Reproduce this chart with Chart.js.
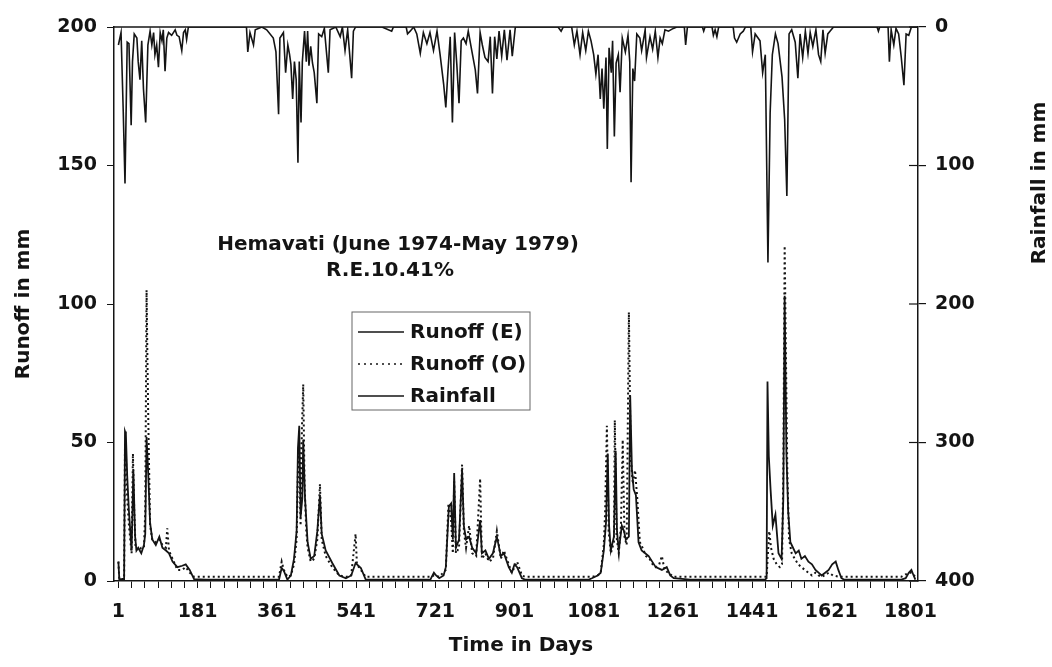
<!DOCTYPE html>
<html>
<head>
<meta charset="utf-8">
<title>Hemavati runoff</title>
<script src="https://cdn.jsdelivr.net/npm/chart.js@4.4.1/dist/chart.umd.min.js"></script>
<style>
  html, body { margin: 0; padding: 0; background: #fff; }
  #wrap { position: relative; width: 1052px; height: 667px; }
</style>
</head>
<body>
<div id="wrap"><canvas id="chart"></canvas></div>
<script>
// ---- data (days since 1 June 1974) ----
const dayTicks   = [1,31,61,91,121,151,181,211,241,271,301,331,361,391,421,451,481,511,541,571,601,631,661,691,721,751,781,811,841,871,901,931,961,991,1021,1051,1081,1111,1141,1171,1201,1231,1261,1291,1321,1351,1381,1411,1441,1471,1501,1531,1561,1591,1621,1651,1681,1711,1741,1771,1801];
const dayLabels  = [1,181,361,541,721,901,1081,1261,1441,1621,1801];
const runoffTicks = [0,50,100,150,200];
const rainTicks   = [0,100,200,300,400];

// Runoff (E) - estimated
const eDays = [1,3,14,16,18,21,25,31,35,39,42,46,53,59,62,65,69,73,78,86,94,101,109,116,124,135,146,154,163,173,200,300,360,
  366,372,377,385,393,400,406,409,412,415,419,421,425,431,438,446,453,459,463,472,487,503,518,530,540,552,563,600,700,
  710,713,718,723,730,740,745,752,757,761,764,768,775,782,786,791,798,805,814,823,827,835,843,852,861,870,877,888,895,901,907,918,925,1000,1070,
  1077,1090,1097,1104,1109,1113,1116,1120,1127,1131,1134,1138,1145,1150,1154,1161,1164,1168,1172,1177,1183,1190,1198,1206,1214,1222,1236,1247,1255,1263,1300,1400,1470,
  1474,1476,1479,1483,1488,1494,1501,1508,1512,1515,1519,1523,1528,1534,1540,1547,1553,1561,1569,1577,1585,1592,1599,1607,1615,1623,1631,1637,1644,1650,1700,1780,
  1790,1797,1803,1808,1812];
const eRunoff = [7,0.7,0.7,54,53,38,25,11,40,16,11,12,10,13,17,52,38,21,15,13,16,12,11,10,7,5,5.5,6,4,0.7,0.5,0.5,0.5,
  0.5,4.7,3.6,0.5,2,8,18,48,56,23,30,51,30,14,8,9,18,31,17,11,6.5,2,1,2,6.5,4.7,0.5,0.5,0.5,
  0.5,1.5,3,2,1,2,5,27,28,15,39,12,15,40,20,15,16,12,10,22,10,11,8,10,16,9,10,5,3,6,5,1,0.5,0.5,0.5,
  1,2,3,11,21,46,20,11,16,47,18,11,20,18,15,16,67,40,33,31,14,11,10,9,7,5,4,5,2,1,0.5,0.5,0.5,
  1,72,45,33,20,24,10,8,30,103,46,25,14,12,10,11,8,9,7,6,4,3,2,3,4,6,7,4,1,0.5,0.5,0.5,
  1,3,4,2,0.5];

// Runoff (O) - observed
const oDays = [1,3,14,16,18,21,25,31,34,37,40,46,53,59,62,65,67,69,73,78,86,94,101,109,112,116,124,135,146,154,163,173,200,300,360,
  366,372,377,385,393,400,406,409,412,415,418,421,424,428,431,438,446,453,459,463,472,487,503,518,530,540,543,552,563,600,700,
  710,718,730,745,751,757,761,764,768,775,782,786,791,798,805,814,823,827,835,843,852,861,870,877,888,895,907,918,925,1000,1070,
  1077,1090,1097,1104,1107,1111,1115,1120,1127,1129,1133,1138,1143,1147,1151,1156,1161,1165,1170,1175,1180,1186,1192,1200,1208,1215,1222,1230,1236,1242,1250,1263,1300,1400,1470,
  1474,1477,1480,1484,1490,1497,1504,1509,1512,1515,1518,1521,1525,1531,1538,1546,1553,1561,1569,1577,1585,1592,1600,1615,1625,1640,1700,1780,
  1797,1803,1812];
const oRunoff = [7,0.7,0.7,50,46,30,20,10,46,25,12,11,12,12,25,105,80,57,20,15,14,15,13,12,19,11,8,4,4,5,3,1.5,1.5,1.5,1.5,
  1.5,7,4,1.5,2,6,15,40,50,20,55,71,35,18,12,7,8,15,35,15,9,5,2,1.5,2,17,6,4,1.5,1.5,1.5,
  1.5,2,1.5,4,28,22,10,36,10,12,42,18,12,20,10,9,37,8,10,7,8,18,8,11,6,3,7,2,1.5,1.5,1.5,
  1.5,2,3,13,25,56,18,10,14,58,16,10,20,51,16,13,97,45,35,40,30,14,12,9,8,6,5,6,9,4,3,1.5,1.5,1.5,1.5,
  1.5,10,18,12,8,6,5,6,40,121,80,40,15,10,8,6,5,4,3,2,3,2,1.5,3,2,1.5,1.5,1.5,
  3,3,1.5];

// Rainfall (hangs from the top, right axis reversed)
const rainDays = [1,7,12,16,21,25,30,33,37,43,46,50,54,58,63,68,73,77,81,84,88,92,96,100,103,107,111,115,122,130,134,139,145,149,153,156,160,250,
  292,295,300,308,312,327,338,353,359,365,368,376,381,386,390,393,397,401,405,409,412,416,419,424,428,431,434,438,442,446,452,456,463,469,478,482,495,505,510,516,522,531,535,540,
  600,622,626,655,658,664,672,679,687,694,702,709,717,725,732,740,745,750,755,760,765,770,775,780,785,791,796,804,812,817,823,828,834,841,846,851,856,861,866,872,878,884,891,896,903,
  1000,1007,1012,1028,1031,1037,1043,1050,1056,1063,1069,1075,1081,1086,1091,1096,1100,1104,1109,1112,1116,1121,1124,1128,1132,1137,1141,1146,1153,1159,1163,1166,1170,1174,1179,1186,1190,1198,1201,1209,1215,1221,1227,1232,1237,1243,1251,1262,1270,
  1287,1290,1294,1328,1331,1334,1350,1353,1357,1361,1365,1398,1401,1406,1414,1421,1426,
  1438,1442,1448,1459,1465,1471,1477,1482,1487,1494,1500,1509,1515,1520,1525,1531,1539,1545,1550,1556,1562,1568,1573,1579,1586,1592,1597,1602,1607,1613,1618,1626,
  1700,1725,1728,1731,1750,1753,1757,1763,1768,1774,1780,1786,1791,1797,1803,1818];
const rainfall = [13,4,61,113,11,12,71,25,5,8,25,38,10,45,69,13,3,13,4,20,13,29,4,10,2,32,8,4,6,2,6,7,17,4,2,9,0,0,
  0,18,4,13,2,0,2,8,18,63,8,4,33,13,20,27,52,25,38,98,25,69,25,3,25,3,28,14,26,33,55,5,7,1,33,2,0,7,0,17,2,37,3,0,
  0,3,0,0,5,3,0,5,19,4,12,4,17,3,20,41,58,31,7,69,4,27,55,10,8,12,3,17,31,48,4,13,22,25,7,48,7,23,3,21,2,24,2,21,0,
  0,3,0,0,0,13,3,20,4,17,3,10,20,34,20,52,30,59,22,88,15,33,10,79,26,20,47,8,18,6,25,112,30,39,5,8,17,2,22,7,16,3,22,8,12,2,3,1,0,
  0,13,0,0,3,0,0,6,2,7,0,0,8,11,5,3,0,
  0,18,5,10,33,20,170,62,20,5,12,36,67,122,5,2,11,37,5,22,3,19,4,14,2,20,25,2,19,5,3,0,
  0,0,3,0,0,25,2,13,1,5,22,42,5,6,0,0];

const INK  = '#141414';
const FONT = 'DejaVu Sans';

function pts(xs, ys) {
  return xs.map((d, i) => ({ x: d, y: ys[i] }));
}

// titles, legend box, frame top and inner ticks of the rainfall axis
const decor = {
  id: 'decor',
  afterDraw(chart) {
    const ctx = chart.ctx;
    const a = chart.chartArea;
    ctx.save();
    ctx.strokeStyle = INK;
    ctx.lineWidth = 1.5;
    ctx.beginPath();
    ctx.moveTo(a.left, a.top);
    ctx.lineTo(a.right, a.top);
    ctx.stroke();

    // rainfall axis ticks cross the axis
    const y2 = chart.scales.y2;
    ctx.lineWidth = 1.2;
    rainTicks.forEach(v => {
      const py = y2.getPixelForValue(v);
      ctx.beginPath();
      ctx.moveTo(a.right - 9, py);
      ctx.lineTo(a.right, py);
      ctx.stroke();
    });

    ctx.fillStyle = INK;
    ctx.font = `bold 20px "${FONT}"`;
    ctx.textAlign = 'center';
    ctx.textBaseline = 'middle';
    ctx.fillText('Hemavati (June 1974-May 1979)', 398, 245);
    ctx.fillText('R.E.10.41%', 390, 271);
    ctx.fillText('Time in Days', 521, 646);

    ctx.save();
    ctx.translate(24, 304);
    ctx.rotate(-Math.PI / 2);
    ctx.fillText('Runoff in mm', 0, 0);
    ctx.restore();

    ctx.save();
    ctx.translate(1040, 183);
    ctx.rotate(-Math.PI / 2);
    ctx.fillText('Rainfall in mm', 0, 0);
    ctx.restore();

    // legend
    ctx.strokeStyle = '#666';
    ctx.lineWidth = 1;
    ctx.strokeRect(352, 312, 178, 98);
    const rows = [
      { label: 'Runoff (E)', y: 332, dash: [] },
      { label: 'Runoff (O)', y: 364, dash: [2, 4] },
      { label: 'Rainfall',   y: 396, dash: [] },
    ];
    ctx.textAlign = 'left';
    rows.forEach(r => {
      ctx.strokeStyle = INK;
      ctx.lineWidth = 1.5;
      ctx.setLineDash(r.dash);
      ctx.beginPath();
      ctx.moveTo(358, r.y);
      ctx.lineTo(404, r.y);
      ctx.stroke();
      ctx.setLineDash([]);
      ctx.fillText(r.label, 410, r.y + 1);
    });
    ctx.restore();
  }
};

const tickFont = { family: FONT, size: 19, weight: 'bold' };

new Chart(document.getElementById('chart'), {
  type: 'line',
  data: {
    datasets: [
      {
        label: 'Runoff (E)',
        data: pts(eDays, eRunoff),
        yAxisID: 'y',
        borderColor: INK,
        borderWidth: 1.8,
        pointRadius: 0,
        tension: 0,
      },
      {
        label: 'Runoff (O)',
        data: pts(oDays, oRunoff),
        yAxisID: 'y',
        borderColor: INK,
        borderWidth: 2,
        borderDash: [2, 3],
        pointRadius: 0,
        tension: 0,
      },
      {
        label: 'Rainfall',
        data: pts(rainDays, rainfall),
        yAxisID: 'y2',
        borderColor: INK,
        borderWidth: 1.6,
        pointRadius: 0,
        tension: 0,
      },
    ],
  },
  options: {
    responsive: true,
    maintainAspectRatio: false,
    animation: false,
    events: [],
    layout: { padding: { top: 27, left: 0, right: 0, bottom: 0 } },
    plugins: { legend: { display: false }, tooltip: { enabled: false } },
    scales: {
      x: {
        type: 'linear',
        min: -9,
        max: 1818,
        afterBuildTicks: ax => { ax.ticks = dayTicks.map(v => ({ value: v })); },
        afterFit: ax => { ax.height = 86; },
        ticks: {
          autoSkip: false,
          maxRotation: 0,
          padding: 13,
          color: INK,
          font: tickFont,
          callback: v => dayLabels.includes(v) ? String(v) : '',
        },
        grid: { drawOnChartArea: false, drawTicks: true, tickLength: 7, color: INK, lineWidth: 1 },
        border: { display: true, color: INK, width: 1.5 },
      },
      y: {
        position: 'left',
        min: 0,
        max: 200,
        afterBuildTicks: ax => { ax.ticks = runoffTicks.map(v => ({ value: v })); },
        afterFit: ax => { ax.width = 114; },
        ticks: { padding: 10, color: INK, font: tickFont },
        grid: { drawOnChartArea: false, drawTicks: true, tickLength: 7, color: INK, lineWidth: 1 },
        border: { display: true, color: INK, width: 1.5 },
      },
      y2: {
        position: 'right',
        min: 0,
        max: 400,
        reverse: true,
        afterBuildTicks: ax => { ax.ticks = rainTicks.map(v => ({ value: v })); },
        afterFit: ax => { ax.width = 134; },
        ticks: { padding: 9, color: INK, font: tickFont },
        grid: { drawOnChartArea: false, drawTicks: true, tickLength: 8, color: INK, lineWidth: 1.2 },
        border: { display: true, color: INK, width: 1.5 },
      },
    },
  },
  plugins: [decor],
});
</script>
</body>
</html>
